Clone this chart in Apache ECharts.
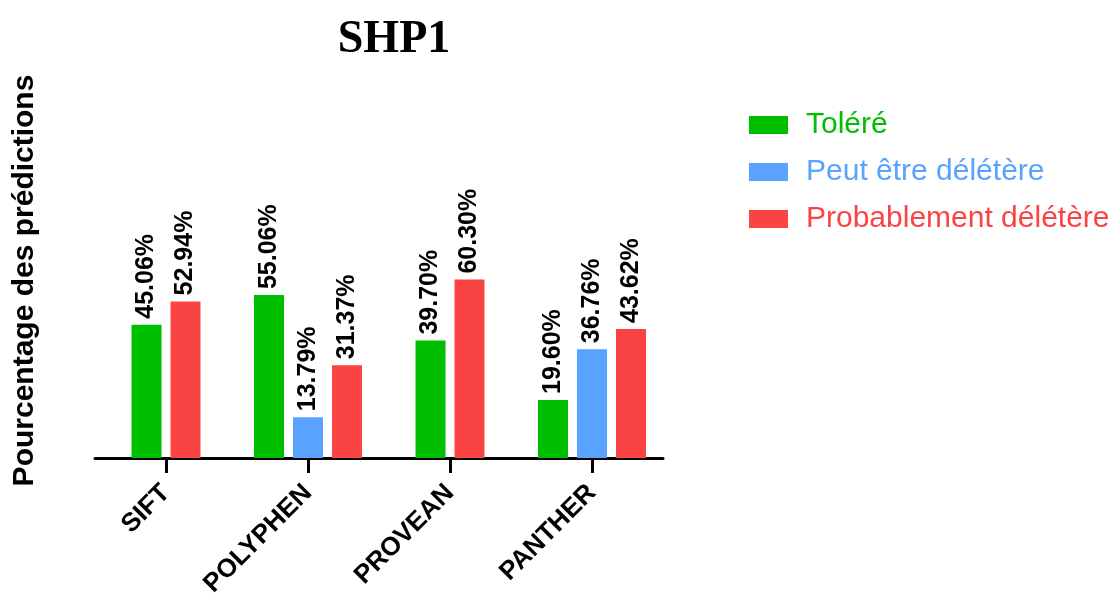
<!DOCTYPE html>
<html>
<head>
<meta charset="utf-8">
<script src="https://cdn.jsdelivr.net/npm/echarts@6/dist/echarts.min.js"></script>
<style>
  html, body { margin: 0; padding: 0; background: #fff; }
  #chart { width: 1116px; height: 601px; }
</style>
</head>
<body>
<div id="chart"></div>
<script>
const categories = ["SIFT", "POLYPHEN", "PROVEAN", "PANTHER"];
const tolere = [45.06, 55.06, 39.70, 19.60];
const peutEtre = [null, 13.79, null, 36.76];
const probablement = [52.94, 31.37, 60.30, 43.62];

const names = ["Toléré", "Peut être délétère", "Probablement délétère"];
const colors = ["#00BE00", "#5AA2FF", "#FA4343"];

// groups without a blue bar get their own (hidden) axis so the two bars stay centred
const hasThree = peutEtre.map((v) => v != null);
const pick = (arr, three) => arr.map((v, i) => (hasThree[i] === three ? v : null));

const labelOpt = {
  show: true,
  position: "top",
  rotate: 90,
  align: "left",
  verticalAlign: "middle",
  distance: 6,
  fontFamily: "Liberation Sans",
  fontWeight: "bold",
  fontSize: 25,
  color: "#000",
  formatter: (p) => p.value.toFixed(2) + "%",
};

const mkSeries = (idx, data, axis) => ({
  name: names[idx],
  type: "bar",
  xAxisIndex: axis,
  data: data,
  barWidth: 30,
  barGap: "30%",
  itemStyle: { color: colors[idx] },
  label: labelOpt,
  emphasis: { disabled: true },
});

const series = [
  mkSeries(0, pick(tolere, true), 0),
  mkSeries(1, pick(peutEtre, true), 0),
  mkSeries(2, pick(probablement, true), 0),
  mkSeries(0, pick(tolere, false), 1),
  mkSeries(2, pick(probablement, false), 1),
];

const myChart = echarts.init(document.getElementById("chart"));
myChart.setOption({
  animation: false,
  title: {
    text: "SHP1",
    left: 389,
    top: 12,
    textAlign: "center",
    textStyle: {
      fontFamily: "Liberation Serif",
      fontWeight: "bold",
      fontSize: 46,
      color: "#000",
    },
  },
  legend: {
    orient: "vertical",
    left: 744,
    top: 105,
    itemWidth: 39,
    itemHeight: 18,
    itemGap: 17,
    icon: "rect",
    data: names,
    textStyle: {
      fontFamily: "Liberation Sans",
      fontSize: 30,
      lineHeight: 30,
      padding: [0, 0, 0, 13],
      color: "inherit",
    },
  },
  grid: { left: 95, right: 453, top: 103, bottom: 143, outerBoundsMode: "none" },
  xAxis: [
    {
      type: "category",
      data: categories,
      axisLine: { show: true, lineStyle: { color: "#000", width: 3 } },
      axisTick: {
        show: true,
        alignWithLabel: true,
        interval: 0,
        length: 15,
        lineStyle: { color: "#000", width: 3 },
      },
      axisLabel: {
        rotate: 45,
        margin: 31,
        fontFamily: "Liberation Sans",
        fontWeight: "bold",
        fontSize: 26,
        color: "#000",
      },
    },
    { type: "category", data: categories, show: false },
  ],
  yAxis: {
    type: "value",
    min: 0,
    max: 120,
    name: "Pourcentage des prédictions",
    nameLocation: "middle",
    nameGap: 55,
    nameTextStyle: {
      fontFamily: "Liberation Sans",
      fontWeight: "bold",
      fontSize: 30,
      color: "#000",
    },
    axisLine: { show: false },
    axisTick: { show: false },
    axisLabel: { show: false },
    splitLine: { show: false },
  },
  series: series,
});
</script>
</body>
</html>
